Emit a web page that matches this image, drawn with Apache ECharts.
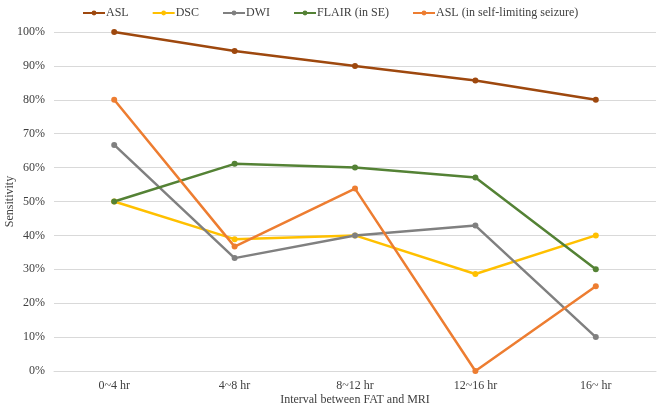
<!DOCTYPE html>
<html><head><meta charset="utf-8">
<script src="https://cdn.jsdelivr.net/npm/echarts@6/dist/echarts.min.js"></script>
<style>html,body{margin:0;padding:0;background:#fff}#c{width:660px;height:411px}</style>
</head><body><div id="c"></div>
<script>
const categories = ['0~4 hr', '4~8 hr', '8~12 hr', '12~16 hr', '16~ hr'];
const seriesNames = ['ASL', 'DSC', 'DWI', 'FLAIR (in SE)', 'ASL (in self-limiting seizure)'];
const asl = [100, 94.4, 90, 85.7, 80];
const dsc = [50, 38.9, 40, 28.6, 40];
const dwi = [66.7, 33.3, 40, 42.9, 10];
const flair = [50, 61.1, 60, 57.1, 30];
const aslSelf = [80, 36.7, 53.8, 0, 25];
const colors = ['#9E480E', '#FFC000', '#808080', '#548235', '#ED7D31'];
const allData = [asl, dsc, dwi, flair, aslSelf];

const font = 'Liberation Serif, Times New Roman, serif';
const chart = echarts.init(document.getElementById('c'));
chart.setOption({
  animation: false,
  color: colors,
  textStyle: { fontFamily: font },
  legend: {
    top: 2, left: 77, itemWidth: 22, itemHeight: 6, itemGap: 23,
    textStyle: { fontFamily: font, fontSize: 12, color: '#404040', padding: [0, 0, 0, -4] },
    data: seriesNames
  },
  grid: { left: 54, right: 4, top: 32, bottom: 40, containLabel: false, outerBoundsMode: 'none' },
  xAxis: {
    type: 'category', data: categories, boundaryGap: true,
    axisLine: { lineStyle: { color: '#d9d9d9' } },
    axisTick: { show: false },
    axisLabel: { color: '#404040', fontFamily: font, fontSize: 12, margin: 9 },
    name: 'Interval between FAT and MRI', nameLocation: 'middle', nameGap: 23,
    nameMoveOverlap: false,
    nameTextStyle: { color: '#404040', fontFamily: font, fontSize: 12 }
  },
  yAxis: {
    type: 'value', min: 0, max: 100, interval: 10,
    axisLine: { show: false }, axisTick: { show: false },
    splitLine: { lineStyle: { color: '#d9d9d9' } },
    axisLabel: { formatter: '{value}%', color: '#404040', fontFamily: font, fontSize: 12, margin: 9 },
    name: 'Sensitivity', nameLocation: 'middle', nameGap: 38,
    nameMoveOverlap: false,
    nameTextStyle: { color: '#404040', fontFamily: font, fontSize: 12 }
  },
  series: seriesNames.map((n, i) => ({
    name: n, type: 'line', data: allData[i],
    symbol: 'circle', symbolSize: 6,
    lineStyle: { width: 2.5, color: colors[i] },
    itemStyle: { color: colors[i] }
  }))
});
</script></body></html>
